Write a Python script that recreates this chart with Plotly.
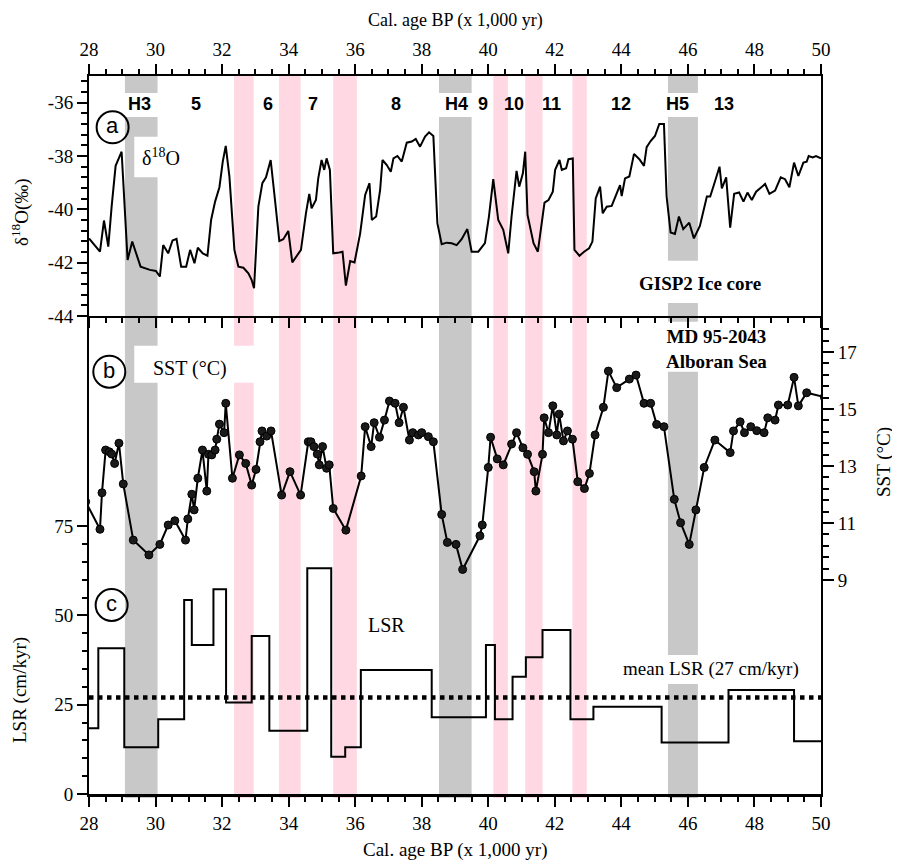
import plotly.graph_objects as go

# ---------------- data ----------------
d18o_age = [28.00, 28.33, 28.45, 28.58, 28.68, 28.80, 28.98, 29.16, 29.30, 29.41, 29.55, 29.83, 30.01, 30.13,
            30.23, 30.38, 30.51, 30.63, 30.77, 30.92, 31.04, 31.17, 31.27, 31.42, 31.56, 31.67, 31.79, 31.92,
            32.02, 32.11, 32.22, 32.37, 32.49, 32.64, 32.79, 32.89, 32.96, 33.09, 33.21, 33.32, 33.46, 33.59,
            33.72, 33.84, 33.99, 34.11, 34.24, 34.37, 34.52, 34.62, 34.69, 34.82, 34.89, 34.99, 35.07, 35.14,
            35.24, 35.34, 35.52, 35.62, 35.72, 35.85, 35.98, 36.15, 36.30, 36.43, 36.50, 36.63, 36.75, 36.82,
            36.95, 37.07, 37.15, 37.27, 37.40, 37.55, 37.70, 37.82, 37.95, 38.10, 38.22, 38.35, 38.47, 38.60,
            38.75, 38.90, 39.05, 39.20, 39.37, 39.50, 39.70, 39.90, 40.02, 40.15, 40.30, 40.45, 40.60, 40.70,
            40.85, 40.93, 41.04, 41.11, 41.18, 41.36, 41.49, 41.69, 41.81, 41.94, 42.01, 42.14, 42.21, 42.34,
            42.41, 42.54, 42.59, 42.74, 42.88, 43.03, 43.13, 43.23, 43.36, 43.44, 43.56, 43.71, 43.96, 44.01,
            44.11, 44.24, 44.38, 44.54, 44.68, 44.76, 44.88, 45.01, 45.14, 45.28, 45.36, 45.48, 45.61, 45.73,
            45.86, 46.04, 46.18, 46.36, 46.57, 46.67, 46.78, 46.95, 47.02, 47.15, 47.27, 47.39, 47.54, 47.67,
            47.79, 47.92, 48.05, 48.19, 48.32, 48.45, 48.62, 48.79, 48.92, 49.05, 49.19, 49.32, 49.47, 49.57,
            49.63, 49.75, 49.85, 50.00]
d18o = [-41.09, -41.59, -40.42, -41.40, -39.90, -38.37, -37.84, -41.90, -41.21, -41.59, -42.15, -42.27, -42.31, -42.52,
        -41.34, -41.65, -41.17, -41.11, -42.15, -42.15, -41.52, -42.02, -41.44, -41.65, -41.74, -40.40, -39.71, -39.17,
        -38.21, -37.62, -38.77, -41.52, -42.15, -42.19, -42.40, -42.65, -42.96, -39.90, -39.02, -38.80, -38.15, -39.65,
        -41.19, -41.12, -40.81, -41.99, -41.77, -41.52, -40.15, -39.42, -39.96, -39.65, -38.84, -38.15, -38.52, -38.09,
        -38.52, -41.65, -41.62, -41.59, -42.86, -41.94, -41.99, -40.90, -39.46, -39.02, -40.40, -40.27, -39.27, -38.15,
        -38.34, -38.59, -38.09, -38.00, -38.21, -37.50, -37.46, -37.36, -37.65, -37.27, -37.11, -37.25, -40.52, -41.31,
        -41.25, -41.27, -41.34, -41.12, -40.74, -41.59, -41.59, -41.27, -40.27, -38.87, -40.40, -40.77, -41.65, -40.27,
        -38.56, -39.15, -38.65, -37.84, -40.21, -41.27, -41.59, -39.75, -39.65, -39.34, -38.52, -38.15, -38.52, -38.46,
        -38.12, -38.09, -41.52, -41.74, -41.59, -41.46, -41.21, -39.59, -39.15, -40.15, -39.90, -39.87, -39.09, -39.50,
        -38.84, -38.77, -37.92, -38.12, -38.37, -37.67, -37.44, -37.25, -36.80, -36.80, -39.52, -40.87, -40.92, -40.27,
        -40.74, -40.50, -41.09, -40.62, -39.52, -39.52, -39.09, -38.40, -39.21, -38.80, -40.69, -39.42, -39.37, -39.71,
        -39.37, -39.65, -39.34, -39.17, -39.05, -39.42, -39.30, -38.80, -38.87, -39.17, -38.25, -38.75, -38.25, -38.21,
        -38.00, -38.05, -38.00, -38.09]

sst_age = [27.90, 28.33, 28.39, 28.50, 28.61, 28.68, 28.77, 28.90, 29.03, 29.33, 29.80, 30.13, 30.38, 30.58,
           30.90, 30.97, 31.09, 31.16, 31.27, 31.41, 31.54, 31.59, 31.69, 31.79, 31.84, 31.92, 32.06, 32.11,
           32.31, 32.52, 32.71, 32.89, 33.02, 33.14, 33.20, 33.34, 33.47, 33.79, 34.04, 34.36, 34.59, 34.67,
           34.76, 34.86, 34.92, 35.02, 35.14, 35.22, 35.34, 35.72, 36.18, 36.30, 36.48, 36.57, 36.73, 36.88,
           37.03, 37.20, 37.32, 37.45, 37.63, 37.73, 37.90, 38.00, 38.20, 38.35, 38.60, 38.77, 39.03, 39.23,
           39.75, 39.82, 40.00, 40.07, 40.27, 40.45, 40.70, 40.85, 41.04, 41.18, 41.38, 41.43, 41.63, 41.68,
           41.81, 41.94, 42.06, 42.13, 42.26, 42.38, 42.53, 42.69, 42.89, 43.04, 43.21, 43.46, 43.61, 43.86,
           44.24, 44.44, 44.68, 44.88, 45.06, 45.28, 45.59, 45.78, 46.04, 46.24, 46.49, 46.81, 47.27, 47.37,
           47.57, 47.70, 47.89, 48.07, 48.29, 48.40, 48.62, 48.72, 49.00, 49.19, 49.32, 49.57, 50.10]
sst = [11.75, 10.78, 12.06, 13.56, 13.50, 13.42, 13.09, 13.80, 12.37, 10.40, 9.88, 10.25, 10.93, 11.08,
       10.40, 11.14, 12.01, 11.46, 12.57, 13.56, 12.12, 13.41, 13.39, 13.56, 13.94, 14.47, 14.17, 15.20,
       12.57, 13.39, 13.09, 12.33, 12.88, 13.85, 14.23, 14.05, 14.23, 11.98, 12.80, 11.98, 13.85, 13.85,
       13.68, 13.42, 13.04, 13.68, 12.92, 13.04, 11.51, 10.75, 12.65, 14.38, 13.68, 14.52, 14.01, 14.61,
       15.28, 15.20, 14.52, 15.06, 13.91, 14.17, 14.09, 14.17, 14.03, 13.85, 11.30, 10.32, 10.25, 9.37,
       10.55, 10.93, 12.95, 14.01, 13.25, 13.04, 13.77, 14.17, 13.64, 13.41, 12.80, 12.12, 13.41, 14.69,
       14.17, 15.11, 14.09, 14.82, 13.88, 14.23, 13.94, 12.45, 12.21, 12.74, 14.09, 15.06, 16.33, 15.75,
       16.05, 16.19, 15.20, 15.20, 14.46, 14.38, 11.83, 11.01, 10.25, 11.46, 12.95, 13.91, 13.47, 14.23,
       14.55, 14.17, 14.38, 14.24, 14.17, 14.69, 14.61, 15.14, 15.14, 16.11, 15.11, 15.57, 15.42]

lsr_edges = [28.00, 28.28, 29.06, 30.08, 30.86, 31.09, 31.74, 32.12, 32.89, 33.42, 34.56, 35.28, 35.70,
             36.17, 38.30, 39.93, 40.20, 40.73, 41.13, 41.63, 42.47, 43.16, 45.21, 47.22, 49.19, 50.00]
lsr = [18.4, 40.8, 13.1, 20.9, 54.3, 41.7, 57.3, 25.6, 44.2, 17.7, 63.2, 10.4, 13.1,
       34.7, 21.5, 41.7, 20.9, 32.8, 38.3, 45.9, 20.9, 24.4, 14.4, 29.1, 14.8]
lsr_mean = 27

h_start = [29.08, 38.52, 45.40]
h_end = [30.06, 39.50, 46.30]
pink_start = [32.36, 33.71, 35.34, 40.15, 41.11, 42.53]
pink_end = [32.95, 34.36, 36.05, 40.59, 41.63, 42.96]

event_labels = ["H3", "5", "6", "7", "8", "H4", "9", "10", "11", "12", "H5", "13"]
event_x = [29.53, 31.22, 33.39, 34.72, 37.23, 39.03, 39.85, 40.77, 41.91, 43.99, 45.69, 47.07]

x_ticks = list(range(28, 51, 2))
d18o_ticks = [-44, -42, -40, -38, -36]
lsr_ticks = [0, 25, 50, 75]
sst_ticks = [9, 11, 13, 15, 17]

# ---------------- geometry (screen pixels; page body has an 8 px margin) ----------------
OFF = 8
W, H = 900 - OFF, 865 - OFF
L, R, T, B = 89, 821, 76, 794          # plot area in screen pixels
PW, PH = R - L, B - T
split = (B - 316) / PH
LSR_TOP = (B - 316) / 3.572
SST_LO = 9 - (B - 580) / 28.5
SST_HI = 17 + (352 - 316) / 28.5


def fx(px):
    return (px - L) / PW


def fy(py):
    return (B - py) / PH


SERIF = "Liberation Serif"
SANS = "Liberation Sans"

fig = go.Figure()

fig.add_trace(go.Scatter(x=d18o_age, y=d18o, xaxis="x2", yaxis="y", mode="lines",
                         line=dict(color="black", width=2), showlegend=False))
fig.add_trace(go.Scatter(x=lsr_edges, y=lsr + [lsr[-1]], xaxis="x", yaxis="y2", mode="lines",
                         line=dict(color="black", width=2, shape="hv"), showlegend=False))
fig.add_trace(go.Scatter(x=[28, 50], y=[lsr_mean, lsr_mean], xaxis="x", yaxis="y2", mode="lines",
                         line=dict(color="black", width=4.5, dash="4.5px,4.5px"), showlegend=False))
fig.add_trace(go.Scatter(x=sst_age, y=sst, xaxis="x", yaxis="y3", mode="lines+markers",
                         line=dict(color="black", width=2),
                         marker=dict(size=8, color="#1a1a1a", line=dict(color="black", width=1)),
                         showlegend=False, cliponaxis=True))

shapes = []
y_band_bottom = fy(798)
for a, b in zip(h_start, h_end):
    shapes.append(dict(type="rect", xref="x", yref="paper", x0=a, x1=b, y0=y_band_bottom, y1=1,
                       fillcolor="#c8c8c8", line=dict(width=0), layer="below"))
for a, b in zip(pink_start, pink_end):
    shapes.append(dict(type="rect", xref="x", yref="paper", x0=a, x1=b, y0=y_band_bottom, y1=1,
                       fillcolor="#ffd8e4", line=dict(width=0), layer="below"))


def white_box(x0, x1, py0, py1):
    shapes.append(dict(type="rect", xref="x", yref="paper", x0=x0, x1=x1, y0=fy(py1), y1=fy(py0),
                       fillcolor="white", line=dict(width=0), layer="below"))


for a, b in zip(h_start, h_end):
    white_box(a - 0.02, b + 0.02, 93, 117)
white_box(29.36, 30.2, 136.7, 177.3)          # delta18O label
white_box(h_start[2] - 0.02, h_end[2] + 0.02, 260.7, 303)   # GISP2 label
white_box(29.36, 33.0, 345.7, 382.7)          # SST label
white_box(h_start[2] - 0.02, h_end[2] + 0.02, 321.7, 371.7)  # MD label
white_box(h_start[2] - 0.02, h_end[2] + 0.02, 655, 684)     # mean LSR label

annotations = []
for lab, (cx, cpy) in zip(["a", "b", "c"], [(28.71, 127.3), (28.61, 371.7), (28.68, 605)]):
    shapes.append(dict(type="circle", xref="x", yref="paper", xsizemode="pixel", ysizemode="pixel",
                       xanchor=cx, yanchor=fy(cpy), x0=-16, x1=16, y0=-16, y1=16,
                       line=dict(color="black", width=2), fillcolor="rgba(0,0,0,0)", layer="above"))
    annotations.append(dict(x=cx, y=fy(cpy) + 0.002, xref="x", yref="paper", text=lab, showarrow=False,
                            font=dict(family=SANS, size=22, color="black"), xanchor="center", yanchor="middle"))

for lab, ex in zip(event_labels, event_x):
    annotations.append(dict(x=ex, y=fy(104), xref="x", yref="paper", text=lab, showarrow=False,
                            font=dict(family=SANS, size=18, color="black", weight="bold"),
                            xanchor="center", yanchor="middle"))


def txt(text, px, py, size=19, family=SERIF, bold=False, angle=0, anchor="center"):
    annotations.append(dict(x=fx(px), y=fy(py), xref="paper", yref="paper", text=text, showarrow=False,
                            textangle=angle, xanchor=anchor, yanchor="middle",
                            font=dict(family=family, size=size, color="black",
                                      weight="bold" if bold else "normal")))


txt("δ<sup>18</sup>O", 161, 157, size=20)
txt("SST (°C)", 189.5, 368, size=20)
txt("LSR", 386, 625, size=20)
txt("mean LSR (27 cm/kyr)", 711, 669, size=19)
txt("GISP2 Ice core", 700, 283, size=19, bold=True)
txt("MD 95-2043<br>Alboran Sea", 716, 349, size=19, bold=True)
txt("Cal. age BP (x 1,000 yr)", 455, 20, size=18)
txt("Cal. age BP (x 1,000 yr)", 455, 850, size=19)
txt("δ<sup>18</sup>O(‰)", 20, 212, size=19, angle=-90)
txt("LSR (cm/kyr)", 20, 690, size=19, angle=-90)
txt("SST (°C)", 884, 462, size=19, angle=-90)

tickfont = dict(family=SERIF, size=19, color="black")
common_x = dict(range=[28, 50], tickvals=x_ticks, ticks="outside", ticklen=10, tickwidth=2,
                tickcolor="black", showline=True, linecolor="black", showgrid=False, zeroline=False,
                tickfont=tickfont, automargin=False,
                minor=dict(dtick=0.5, tick0=28, ticks="outside", ticklen=5, tickwidth=1.5,
                           tickcolor="black", showgrid=False))

fig.update_layout(
    width=W, height=H, margin=dict(l=L - OFF, r=900 - R, t=T - OFF, b=865 - B),
    paper_bgcolor="white", plot_bgcolor="rgba(0,0,0,0)",
    font=dict(family=SERIF, size=19, color="black"),
    xaxis=dict(domain=[0, 1], anchor="y2", side="bottom", linewidth=3, **common_x),
    xaxis2=dict(domain=[0, 1], anchor="y", side="top", linewidth=2, mirror="ticks", matches="x",
                **common_x),
    yaxis=dict(domain=[split, 1], anchor="x2", range=[-44, -35], tickvals=d18o_ticks,
               ticktext=[f"-{abs(v)}" for v in d18o_ticks], ticks="outside", ticklen=10, tickwidth=2,
               tickcolor="black", showline=True, linewidth=2, linecolor="black", mirror=True,
               showgrid=False, zeroline=False, tickfont=tickfont, automargin=False,
               minor=dict(tickvals=[round(-44 + 0.4 * k, 1) for k in range(23) if (k % 5) != 0],
                          ticks="outside", ticklen=6, tickwidth=1.5, tickcolor="black", showgrid=False)),
    yaxis2=dict(domain=[0, split], anchor="x", range=[0, LSR_TOP], tickvals=lsr_ticks,
                ticks="outside", ticklen=10, tickwidth=2, tickcolor="black", showline=True, linewidth=2,
                linecolor="black", showgrid=False, zeroline=False, tickfont=tickfont, automargin=False,
                minor=dict(tickvals=[v for v in range(5, 75, 5) if v % 25], ticks="outside", ticklen=5,
                           tickwidth=1.5, tickcolor="black", showgrid=False)),
    yaxis3=dict(overlaying="y2", anchor="x", side="right", range=[SST_LO, SST_HI], tickvals=sst_ticks,
                ticks="outside", ticklen=11, tickwidth=2, tickcolor="black", showline=True, linewidth=2,
                linecolor="black", showgrid=False, zeroline=False, tickfont=tickfont, automargin=False,
                minor=dict(tickvals=[round(9 + 0.4 * k, 1) for k in range(23) if (k % 5) != 0],
                           ticks="outside", ticklen=6, tickwidth=1.5, tickcolor="black", showgrid=False)),
    shapes=shapes,
    annotations=annotations,
)

fig.write_html("out.html")
